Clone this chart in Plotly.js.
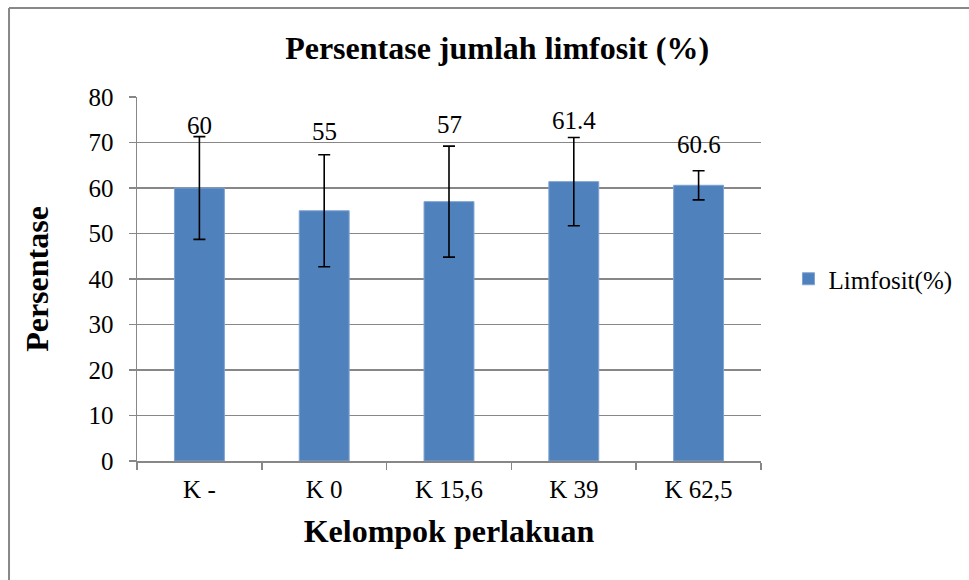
<!DOCTYPE html>
<html>
<head>
<meta charset="utf-8">
<script src="https://cdn.plot.ly/plotly-3.0.1.min.js"></script>
<style>html,body{margin:0;padding:0;background:#fff;}#chart{width:969px;height:580px;}</style>
</head>
<body>
<div id="chart"></div>
<script>
const categories = ["K -", "K 0", "K 15,6", "K 39", "K 62,5"];
const limfosit = [60, 55, 57, 61.4, 60.6];
const errors = [11.3, 12.3, 12.2, 9.7, 3.2];
const valueLabels = ["60", "55", "57", "61.4", "60.6"];
const labelShift = [-4, 8, 6, 2, 11];

const serif = "Liberation Serif";

const trace = {
  type: "bar",
  x: categories,
  y: limfosit,
  name: "Limfosit(%)",
  marker: {color: "#4F81BD", line: {color: "#7FA3D3", width: 1}},
  error_y: {type: "data", array: errors, visible: true, color: "#000000", thickness: 1.6, width: 6},
  hoverinfo: "x+y"
};

const annotations = categories.map((c, i) => ({
  x: c, y: limfosit[i] + errors[i], xref: "x", yref: "y",
  text: valueLabels[i], showarrow: false, yanchor: "bottom",
  yshift: labelShift[i],
  font: {family: serif, size: 25, color: "#000"}
}));

const layout = {
  width: 969, height: 580, autosize: false,
  margin: {l: 137, r: 208, t: 97, b: 119, pad: 0},
  paper_bgcolor: "#fff", plot_bgcolor: "#fff",
  font: {family: serif, color: "#000"},
  title: {text: "<b>Persentase jumlah limfosit (%)</b>", x: 0.513, xanchor: "center", y: 0.917, yanchor: "middle",
          font: {family: serif, size: 32, color: "#000"}},
  bargap: 0.6,
  xaxis: {
    type: "category",
    showline: true, linecolor: "#878787", linewidth: 1.5,
    ticks: "outside", tickson: "boundaries", ticklen: 7, tickcolor: "#878787", tickwidth: 1.5,
    tickfont: {family: serif, size: 25, color: "#000"}, ticklabelstandoff: 5,
    showgrid: false, zeroline: false,
    title: {text: "<b>Kelompok perlakuan</b>", font: {family: serif, size: 32, color: "#000"}, standoff: 18}
  },
  yaxis: {
    range: [0, 80], dtick: 10, tick0: 0,
    showline: true, linecolor: "#878787", linewidth: 1.5,
    ticks: "outside", ticklen: 7, tickcolor: "#878787", tickwidth: 1.5,
    tickfont: {family: serif, size: 25, color: "#000"}, ticklabelstandoff: 10,
    showgrid: true, gridcolor: "#878787", gridwidth: 1.5, zeroline: false,
    title: {text: "<b>Persentase</b>", font: {family: serif, size: 32, color: "#000"}, standoff: 30}
  },
  showlegend: true,
  legend: {x: 1.044, xanchor: "left", y: 0.5, yanchor: "middle", font: {family: serif, size: 25, color: "#000"},
           bgcolor: "rgba(0,0,0,0)", itemwidth: 30},
  annotations: annotations,
  shapes: [
    {type: "line", xref: "paper", yref: "paper", x0: -0.2051, x1: 1.34, y0: 1.2445, y1: 1.2445, line: {color: "#888", width: 2}},
    {type: "line", xref: "paper", yref: "paper", x0: -0.2051, x1: -0.2051, y0: 1.2445, y1: -0.33, line: {color: "#888", width: 2}}
  ]
};

Plotly.newPlot("chart", [trace], layout, {displayModeBar: false, staticPlot: true});
</script>
</body>
</html>
